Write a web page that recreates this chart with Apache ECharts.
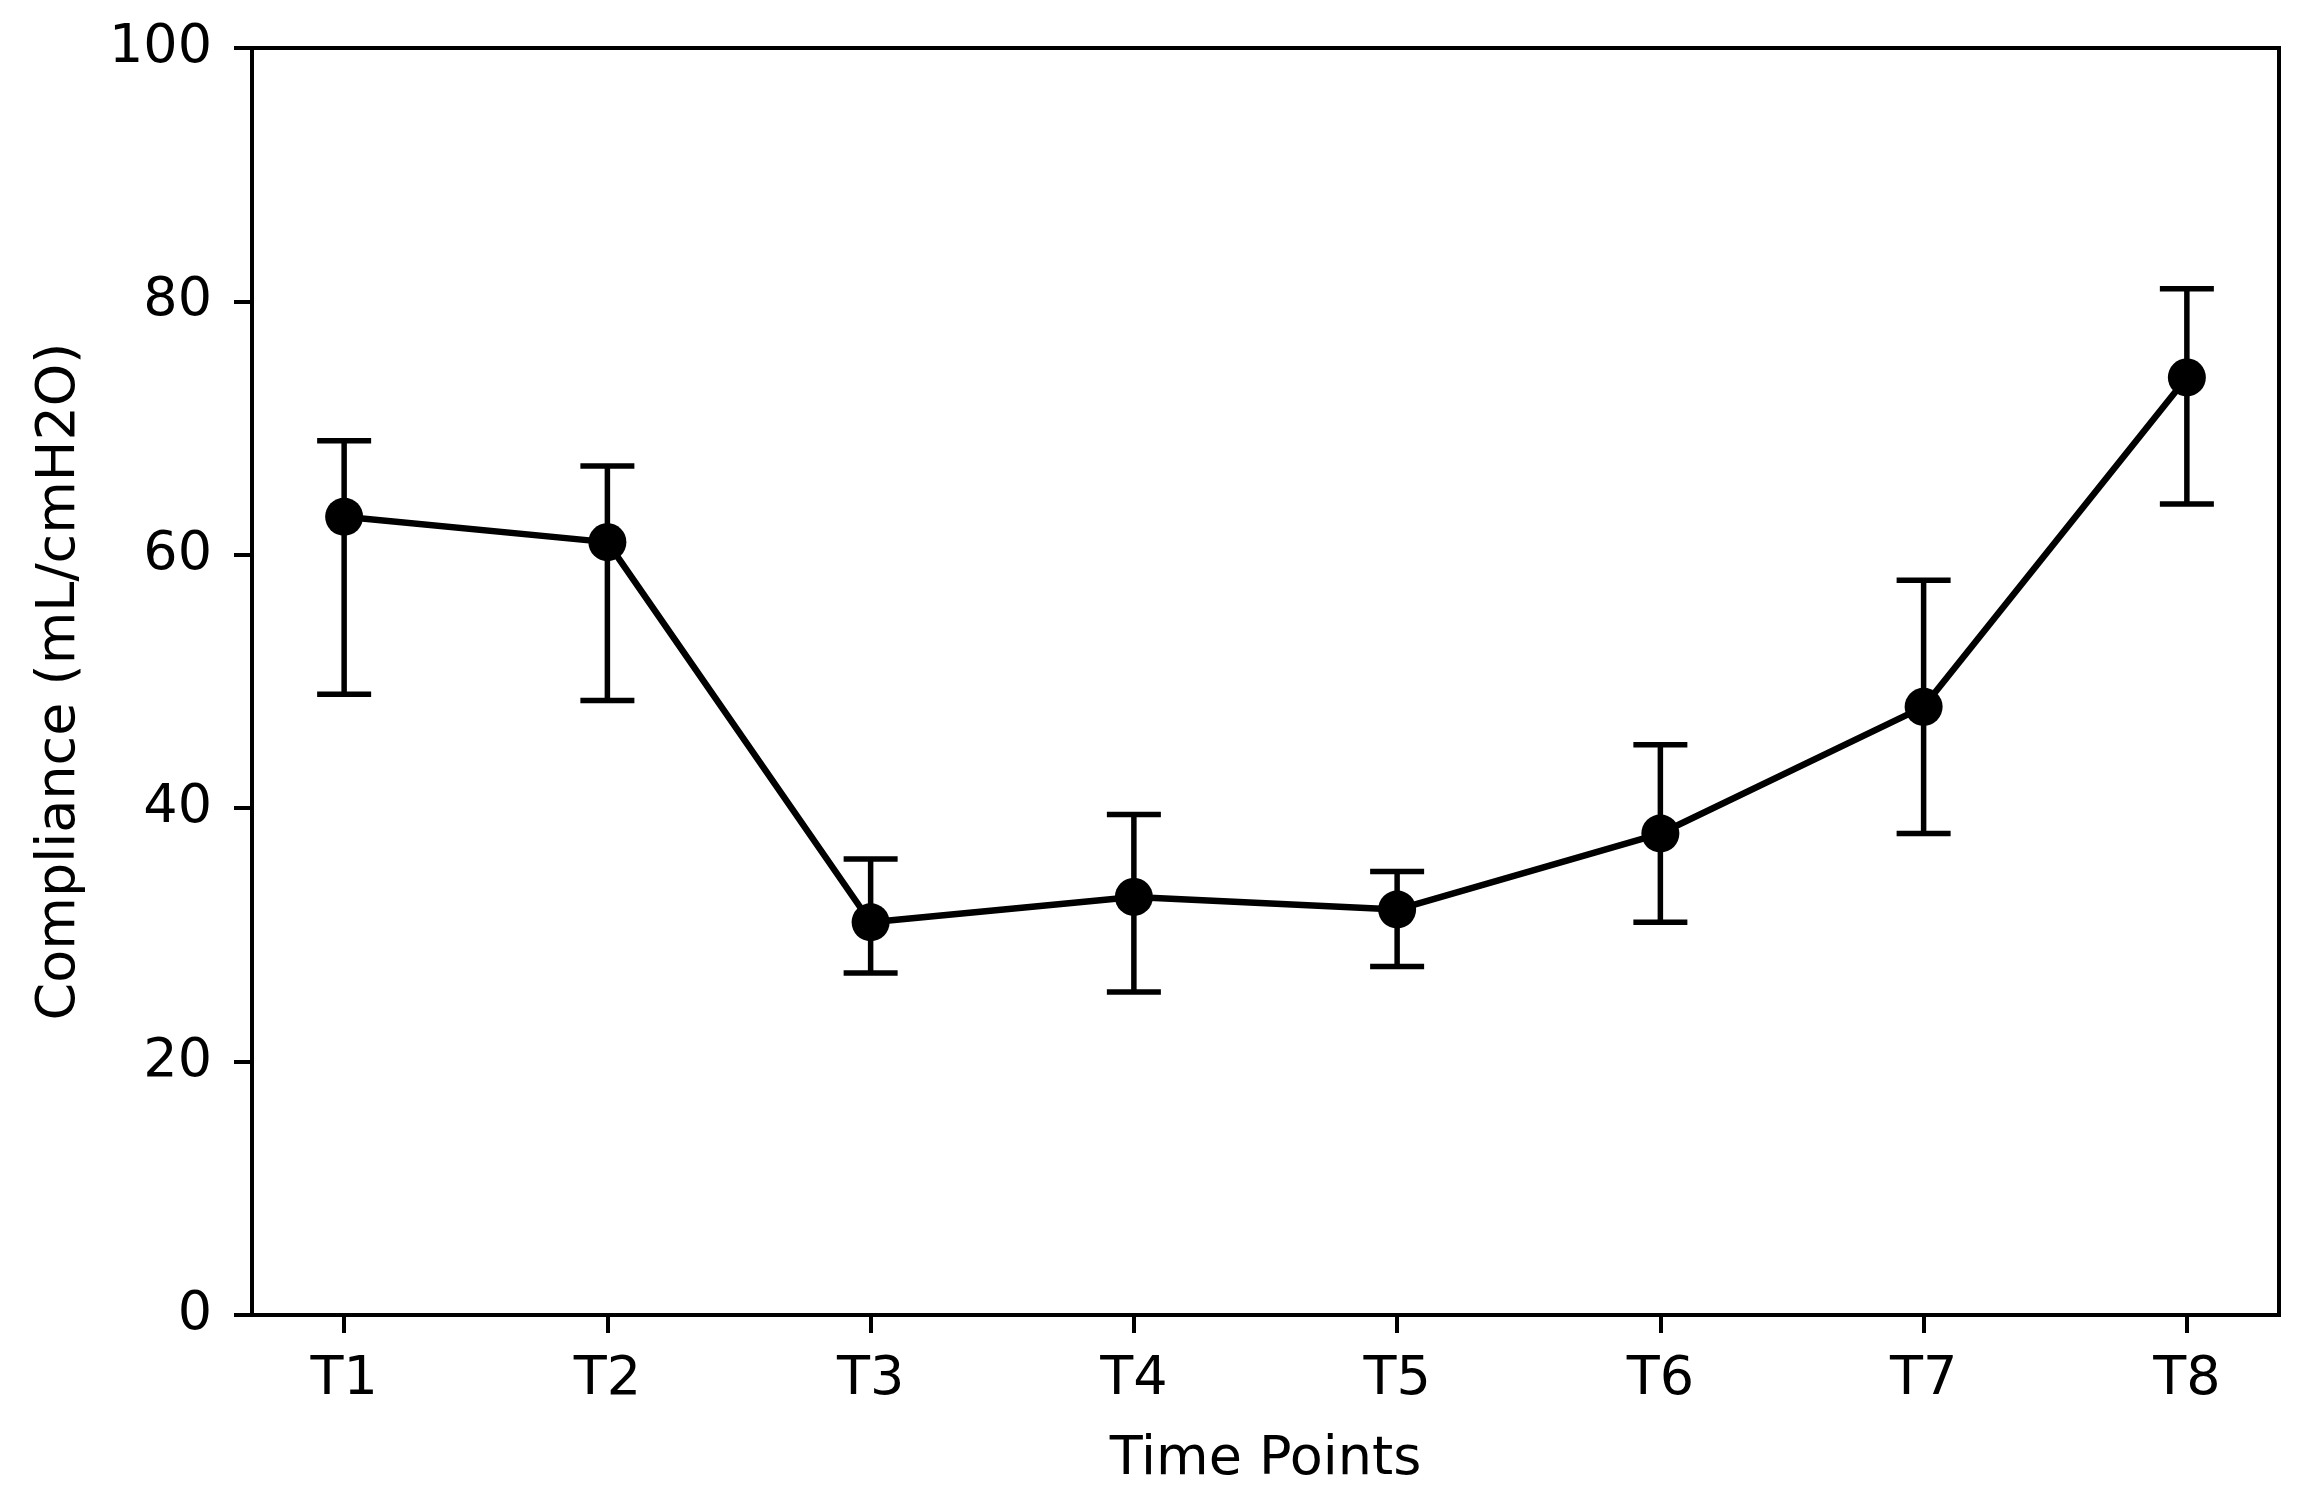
<!DOCTYPE html>
<html>
<head>
<meta charset="utf-8">
<style>html,body{margin:0;padding:0;background:#fff;}#chart{width:2308px;height:1495px;}</style>
<script src="https://cdn.jsdelivr.net/npm/echarts@6/dist/echarts.min.js"></script>
</head>
<body>
<div id="chart"></div>
<script>
const categories = ['T1','T2','T3','T4','T5','T6','T7','T8'];
const meanValues = [63, 61, 31, 33, 32, 38, 48, 74];
const lowerValues = [49, 48.5, 27, 25.5, 27.5, 31, 38, 64];
const upperValues = [69, 67, 36, 39.5, 35, 45, 58, 81];
const yTicks = [0, 20, 40, 60, 80, 100];

const chart = echarts.init(document.getElementById('chart'));
const font = 'DejaVu Sans';
const idx = categories.map((c, i) => i);
const lineData = meanValues.map((v, i) => [i, v]);
const errData = idx.map(i => [i, lowerValues[i], upperValues[i]]);

chart.setOption({
  animation: false,
  backgroundColor: '#fff',
  grid: {left: 252, right: 29, top: 48, bottom: 180, show: true, borderColor: '#000', borderWidth: 4, backgroundColor: 'transparent'},
  xAxis: {
    type: 'value', min: -0.35, max: 7.35,
    name: 'Time Points', nameLocation: 'middle', nameGap: 118,
    nameTextStyle: {fontFamily: font, fontSize: 54, color: '#000'},
    axisLine: {show: true, onZero: false, lineStyle: {color: '#000', width: 4}},
    axisTick: {show: true, length: 18, lineStyle: {color: '#000', width: 4}, customValues: idx},
    axisLabel: {fontFamily: font, fontSize: 54, color: '#000', margin: 38, customValues: idx,
      formatter: v => categories[Math.round(v)] || ''},
    splitLine: {show: false}
  },
  yAxis: {
    type: 'value', min: 0, max: 100, interval: 20,
    name: 'Compliance (mL/cmH2O)', nameLocation: 'middle', nameGap: 165,
    nameTextStyle: {fontFamily: font, fontSize: 54, color: '#000'},
    axisLine: {show: true, onZero: false, lineStyle: {color: '#000', width: 4}},
    axisTick: {show: true, length: 18, lineStyle: {color: '#000', width: 4}},
    axisLabel: {fontFamily: font, fontSize: 54, color: '#000', margin: 40,
      formatter: v => yTicks.includes(v) ? String(v) : ''},
    splitLine: {show: false}
  },
  series: [
    {
      type: 'custom',
      data: errData,
      z: 2,
      renderItem: function (params, api) {
        const x = api.value(0);
        const lo = api.coord([x, api.value(1)]);
        const hi = api.coord([x, api.value(2)]);
        const hw = 27;
        const style = {stroke: '#000', lineWidth: 5.5, fill: null};
        return {
          type: 'group',
          children: [
            {type: 'line', shape: {x1: lo[0], y1: lo[1], x2: hi[0], y2: hi[1]}, style: style},
            {type: 'line', shape: {x1: lo[0] - hw, y1: lo[1], x2: lo[0] + hw, y2: lo[1]}, style: style},
            {type: 'line', shape: {x1: hi[0] - hw, y1: hi[1], x2: hi[0] + hw, y2: hi[1]}, style: style}
          ]
        };
      }
    },
    {
      type: 'line',
      data: lineData,
      z: 3,
      symbol: 'circle',
      symbolSize: 38,
      itemStyle: {color: '#000'},
      lineStyle: {color: '#000', width: 6.5}
    }
  ]
});
</script>
</body>
</html>
